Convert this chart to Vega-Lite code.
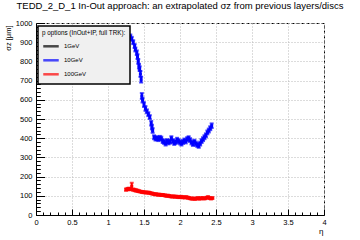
{
  "$schema": "https://vega.github.io/schema/vega-lite/v6.json",
  "width": 288,
  "height": 192,
  "autosize": {"type": "none"},
  "padding": {"left": 36, "top": 23, "right": 36, "bottom": 25},
  "background": "white",
  "config": {
    "font": "Liberation Sans",
    "view": {"stroke": "black", "strokeDash": [3, 2], "strokeWidth": 1},
    "legend": {"strokeWidth": 1.5}
  },
  "title": {
    "text": "TEDD_2_D_1 In-Out approach: an extrapolated σz from previous layers/discs",
    "fontSize": 9.5,
    "fontWeight": "normal",
    "anchor": "middle",
    "frame": "group",
    "offset": 8.5,
    "color": "black"
  },
  "data": {
    "values": [
      {"p": "10GeV", "eta": 1.31, "sigma": 930, "err": 10},
      {"p": "10GeV", "eta": 1.33, "sigma": 918, "err": 10},
      {"p": "10GeV", "eta": 1.35, "sigma": 900, "err": 10},
      {"p": "10GeV", "eta": 1.37, "sigma": 880, "err": 10},
      {"p": "10GeV", "eta": 1.38, "sigma": 862, "err": 10},
      {"p": "10GeV", "eta": 1.40, "sigma": 845, "err": 12},
      {"p": "10GeV", "eta": 1.41, "sigma": 825, "err": 12},
      {"p": "10GeV", "eta": 1.42, "sigma": 800, "err": 12},
      {"p": "10GeV", "eta": 1.43, "sigma": 775, "err": 12},
      {"p": "10GeV", "eta": 1.44, "sigma": 762, "err": 12},
      {"p": "10GeV", "eta": 1.45, "sigma": 735, "err": 15},
      {"p": "10GeV", "eta": 1.46, "sigma": 705, "err": 15},
      {"p": "10GeV", "eta": 1.47, "sigma": 620, "err": 15},
      {"p": "10GeV", "eta": 1.48, "sigma": 598, "err": 12},
      {"p": "10GeV", "eta": 1.50, "sigma": 575, "err": 12},
      {"p": "10GeV", "eta": 1.52, "sigma": 555, "err": 12},
      {"p": "10GeV", "eta": 1.54, "sigma": 540, "err": 10},
      {"p": "10GeV", "eta": 1.56, "sigma": 525, "err": 10},
      {"p": "10GeV", "eta": 1.58, "sigma": 510, "err": 10},
      {"p": "10GeV", "eta": 1.60, "sigma": 478, "err": 12},
      {"p": "10GeV", "eta": 1.61, "sigma": 458, "err": 12},
      {"p": "10GeV", "eta": 1.62, "sigma": 440, "err": 12},
      {"p": "10GeV", "eta": 1.64, "sigma": 405, "err": 10},
      {"p": "10GeV", "eta": 1.66, "sigma": 398, "err": 10},
      {"p": "10GeV", "eta": 1.68, "sigma": 400, "err": 10},
      {"p": "10GeV", "eta": 1.70, "sigma": 395, "err": 10},
      {"p": "10GeV", "eta": 1.72, "sigma": 402, "err": 10},
      {"p": "10GeV", "eta": 1.74, "sigma": 398, "err": 10},
      {"p": "10GeV", "eta": 1.76, "sigma": 385, "err": 10},
      {"p": "10GeV", "eta": 1.78, "sigma": 380, "err": 10},
      {"p": "10GeV", "eta": 1.80, "sigma": 372, "err": 10},
      {"p": "10GeV", "eta": 1.82, "sigma": 385, "err": 10},
      {"p": "10GeV", "eta": 1.84, "sigma": 378, "err": 10},
      {"p": "10GeV", "eta": 1.86, "sigma": 382, "err": 10},
      {"p": "10GeV", "eta": 1.88, "sigma": 400, "err": 10},
      {"p": "10GeV", "eta": 1.90, "sigma": 385, "err": 10},
      {"p": "10GeV", "eta": 1.92, "sigma": 375, "err": 10},
      {"p": "10GeV", "eta": 1.94, "sigma": 380, "err": 10},
      {"p": "10GeV", "eta": 1.96, "sigma": 392, "err": 10},
      {"p": "10GeV", "eta": 1.98, "sigma": 385, "err": 10},
      {"p": "10GeV", "eta": 2.00, "sigma": 378, "err": 10},
      {"p": "10GeV", "eta": 2.02, "sigma": 372, "err": 10},
      {"p": "10GeV", "eta": 2.04, "sigma": 380, "err": 10},
      {"p": "10GeV", "eta": 2.06, "sigma": 388, "err": 10},
      {"p": "10GeV", "eta": 2.08, "sigma": 383, "err": 10},
      {"p": "10GeV", "eta": 2.10, "sigma": 395, "err": 10},
      {"p": "10GeV", "eta": 2.12, "sigma": 400, "err": 10},
      {"p": "10GeV", "eta": 2.14, "sigma": 390, "err": 10},
      {"p": "10GeV", "eta": 2.16, "sigma": 378, "err": 10},
      {"p": "10GeV", "eta": 2.18, "sigma": 370, "err": 10},
      {"p": "10GeV", "eta": 2.20, "sigma": 382, "err": 10},
      {"p": "10GeV", "eta": 2.22, "sigma": 372, "err": 10},
      {"p": "10GeV", "eta": 2.24, "sigma": 365, "err": 10},
      {"p": "10GeV", "eta": 2.26, "sigma": 360, "err": 10},
      {"p": "10GeV", "eta": 2.28, "sigma": 372, "err": 10},
      {"p": "10GeV", "eta": 2.30, "sigma": 385, "err": 10},
      {"p": "10GeV", "eta": 2.32, "sigma": 395, "err": 10},
      {"p": "10GeV", "eta": 2.34, "sigma": 405, "err": 10},
      {"p": "10GeV", "eta": 2.36, "sigma": 415, "err": 10},
      {"p": "10GeV", "eta": 2.38, "sigma": 430, "err": 10},
      {"p": "10GeV", "eta": 2.40, "sigma": 440, "err": 10},
      {"p": "10GeV", "eta": 2.42, "sigma": 452, "err": 10},
      {"p": "10GeV", "eta": 2.44, "sigma": 465, "err": 12},
      {"p": "100GeV", "eta": 1.25, "sigma": 132, "err": 6},
      {"p": "100GeV", "eta": 1.27, "sigma": 135, "err": 6},
      {"p": "100GeV", "eta": 1.29, "sigma": 136, "err": 6},
      {"p": "100GeV", "eta": 1.31, "sigma": 135, "err": 6},
      {"p": "100GeV", "eta": 1.33, "sigma": 150, "err": 18},
      {"p": "100GeV", "eta": 1.35, "sigma": 132, "err": 6},
      {"p": "100GeV", "eta": 1.37, "sigma": 130, "err": 6},
      {"p": "100GeV", "eta": 1.39, "sigma": 128, "err": 6},
      {"p": "100GeV", "eta": 1.41, "sigma": 126, "err": 6},
      {"p": "100GeV", "eta": 1.43, "sigma": 124, "err": 5},
      {"p": "100GeV", "eta": 1.45, "sigma": 122, "err": 5},
      {"p": "100GeV", "eta": 1.47, "sigma": 120, "err": 5},
      {"p": "100GeV", "eta": 1.49, "sigma": 119, "err": 5},
      {"p": "100GeV", "eta": 1.51, "sigma": 118, "err": 5},
      {"p": "100GeV", "eta": 1.53, "sigma": 117, "err": 5},
      {"p": "100GeV", "eta": 1.55, "sigma": 117, "err": 5},
      {"p": "100GeV", "eta": 1.57, "sigma": 116, "err": 5},
      {"p": "100GeV", "eta": 1.59, "sigma": 114, "err": 5},
      {"p": "100GeV", "eta": 1.61, "sigma": 112, "err": 5},
      {"p": "100GeV", "eta": 1.63, "sigma": 110, "err": 5},
      {"p": "100GeV", "eta": 1.65, "sigma": 108, "err": 5},
      {"p": "100GeV", "eta": 1.67, "sigma": 108, "err": 5},
      {"p": "100GeV", "eta": 1.69, "sigma": 106, "err": 5},
      {"p": "100GeV", "eta": 1.71, "sigma": 106, "err": 5},
      {"p": "100GeV", "eta": 1.73, "sigma": 105, "err": 5},
      {"p": "100GeV", "eta": 1.75, "sigma": 104, "err": 5},
      {"p": "100GeV", "eta": 1.77, "sigma": 104, "err": 5},
      {"p": "100GeV", "eta": 1.79, "sigma": 102, "err": 5},
      {"p": "100GeV", "eta": 1.81, "sigma": 100, "err": 5},
      {"p": "100GeV", "eta": 1.83, "sigma": 101, "err": 5},
      {"p": "100GeV", "eta": 1.85, "sigma": 99, "err": 5},
      {"p": "100GeV", "eta": 1.87, "sigma": 97, "err": 5},
      {"p": "100GeV", "eta": 1.89, "sigma": 96, "err": 5},
      {"p": "100GeV", "eta": 1.91, "sigma": 97, "err": 5},
      {"p": "100GeV", "eta": 1.93, "sigma": 95, "err": 5},
      {"p": "100GeV", "eta": 1.95, "sigma": 96, "err": 5},
      {"p": "100GeV", "eta": 1.97, "sigma": 94, "err": 5},
      {"p": "100GeV", "eta": 1.99, "sigma": 93, "err": 5},
      {"p": "100GeV", "eta": 2.01, "sigma": 95, "err": 5},
      {"p": "100GeV", "eta": 2.03, "sigma": 92, "err": 5},
      {"p": "100GeV", "eta": 2.05, "sigma": 93, "err": 5},
      {"p": "100GeV", "eta": 2.07, "sigma": 91, "err": 5},
      {"p": "100GeV", "eta": 2.09, "sigma": 93, "err": 5},
      {"p": "100GeV", "eta": 2.11, "sigma": 90, "err": 5},
      {"p": "100GeV", "eta": 2.13, "sigma": 88, "err": 5},
      {"p": "100GeV", "eta": 2.15, "sigma": 86, "err": 5},
      {"p": "100GeV", "eta": 2.17, "sigma": 85, "err": 5},
      {"p": "100GeV", "eta": 2.19, "sigma": 86, "err": 5},
      {"p": "100GeV", "eta": 2.21, "sigma": 84, "err": 5},
      {"p": "100GeV", "eta": 2.23, "sigma": 86, "err": 5},
      {"p": "100GeV", "eta": 2.25, "sigma": 88, "err": 5},
      {"p": "100GeV", "eta": 2.27, "sigma": 85, "err": 5},
      {"p": "100GeV", "eta": 2.29, "sigma": 87, "err": 5},
      {"p": "100GeV", "eta": 2.31, "sigma": 88, "err": 5},
      {"p": "100GeV", "eta": 2.33, "sigma": 86, "err": 5},
      {"p": "100GeV", "eta": 2.35, "sigma": 87, "err": 5},
      {"p": "100GeV", "eta": 2.37, "sigma": 90, "err": 5},
      {"p": "100GeV", "eta": 2.39, "sigma": 93, "err": 5},
      {"p": "100GeV", "eta": 2.41, "sigma": 88, "err": 5},
      {"p": "100GeV", "eta": 2.43, "sigma": 86, "err": 5},
      {"p": "100GeV", "eta": 2.45, "sigma": 88, "err": 5}
    ]
  },
  "resolve": {"axis": {"x": "independent", "y": "independent"}},
  "layer": [
    {
      "mark": {"type": "errorbar", "thickness": 2, "ticks": {"size": 4}},
      "encoding": {
        "x": {
          "field": "eta", "type": "quantitative",
          "scale": {"domain": [0, 4], "nice": false, "zero": false},
          "axis": {
            "orient": "bottom",
            "values": [0, 0.5, 1, 1.5, 2, 2.5, 3, 3.5, 4],
            "format": "~g",
            "tickSize": -6, "tickColor": "black", "tickWidth": 1,
            "domainColor": "black", "domainWidth": 1,
            "labelFontSize": 7.5, "labelColor": "black", "labelPadding": 9,
            "labelFlush": false, "labelOverlap": false,
            "grid": true, "gridColor": "#b8b8b8", "gridDash": [1, 2], "gridWidth": 1,
            "title": "η", "titleFontSize": 8, "titleFontWeight": "normal", "titleColor": "black",
            "titleAnchor": "end", "titleAlign": "right", "titleX": 287, "titleY": 16, "titleBaseline": "middle"
          }
        },
        "y": {
          "field": "sigma", "type": "quantitative",
          "scale": {"domain": [0, 1000], "nice": false},
          "axis": {
            "orient": "left",
            "values": [0, 100, 200, 300, 400, 500, 600, 700, 800, 900, 1000],
            "format": "d",
            "tickSize": -8.5, "tickColor": "black", "tickWidth": 1,
            "domainColor": "black", "domainWidth": 1,
            "labelFontSize": 7.5, "labelColor": "black", "labelPadding": 12.5,
            "labelFlush": false, "labelOverlap": false,
            "grid": true, "gridColor": "#b8b8b8", "gridDash": [1, 2], "gridWidth": 1,
            "title": "σz [μm]", "titleFontSize": 7.5, "titleFontWeight": "normal", "titleColor": "black",
            "titleAngle": -90, "titleAlign": "right", "titleBaseline": "middle",
            "titleX": -28, "titleY": 2
          }
        },
        "yError": {"field": "err"},
        "color": {
          "field": "p", "type": "nominal",
          "scale": {"domain": ["1GeV", "10GeV", "100GeV"], "range": ["black", "#0000ff", "#ff0000"]},
          "legend": {
            "orient": "none", "legendX": 2, "legendY": 3,
            "title": "p options (InOut+IP, full TRK):",
            "titleFontSize": 6.3, "titleFontWeight": "normal", "titleColor": "black", "titlePadding": 1,
            "labelFontSize": 6, "labelColor": "black", "labelOffset": 4,
            "symbolType": "stroke", "symbolStrokeWidth": 2.5, "symbolSize": 240,
            "rowPadding": -3.5,
            "fillColor": "#f0f0f0", "strokeColor": "black", "padding": 4
          }
        }
      }
    },
    {
      "mark": {"type": "square", "size": 9, "filled": true, "opacity": 1},
      "encoding": {
        "x": {
          "field": "eta", "type": "quantitative",
          "axis": {
            "orient": "bottom",
            "values": [0.1, 0.2, 0.3, 0.4, 0.6, 0.7, 0.8, 0.9, 1.1, 1.2, 1.3, 1.4, 1.6, 1.7, 1.8, 1.9, 2.1, 2.2, 2.3, 2.4, 2.6, 2.7, 2.8, 2.9, 3.1, 3.2, 3.3, 3.4, 3.6, 3.7, 3.8, 3.9],
            "tickSize": -3, "tickColor": "black", "tickWidth": 1,
            "labels": false, "domain": false, "grid": false, "title": null
          }
        },
        "y": {
          "field": "sigma", "type": "quantitative",
          "axis": {
            "orient": "left",
            "values": [20, 40, 60, 80, 120, 140, 160, 180, 220, 240, 260, 280, 320, 340, 360, 380, 420, 440, 460, 480, 520, 540, 560, 580, 620, 640, 660, 680, 720, 740, 760, 780, 820, 840, 860, 880, 920, 940, 960, 980],
            "tickSize": -4.3, "tickColor": "black", "tickWidth": 1,
            "labels": false, "domain": false, "grid": false, "title": null
          }
        },
        "color": {"field": "p", "type": "nominal", "legend": null}
      }
    }
  ]
}
